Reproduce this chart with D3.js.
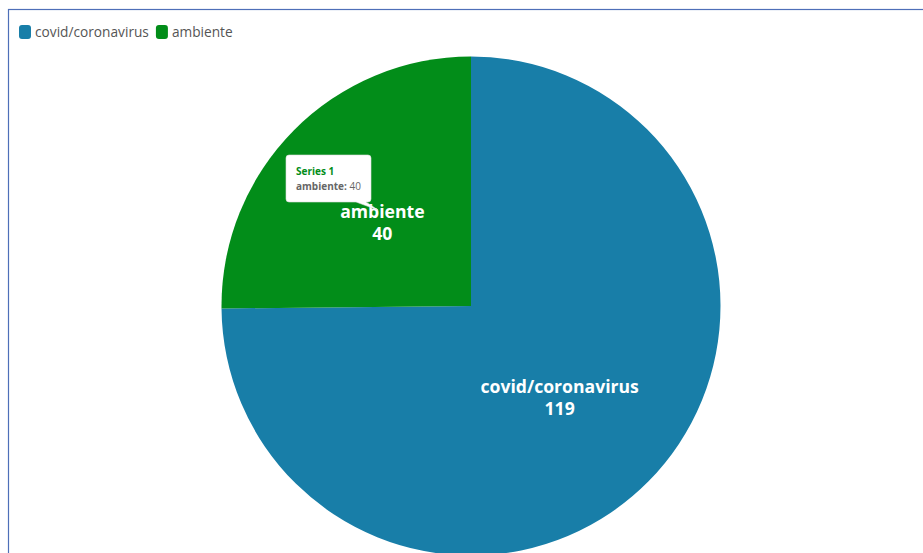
<!DOCTYPE html>
<html>
<head>
<meta charset="utf-8">
<script src="https://cdn.jsdelivr.net/npm/d3@7"></script>
<style>
  html, body { margin: 0; padding: 0; background: #fff; }
  svg { display: block; }
</style>
</head>
<body>
<svg id="chart" width="923" height="553"></svg>
<script>
// Topics and their counts
const categories = ["covid/coronavirus", "ambiente"];
const values = [119, 40];
const colors = ["#187ea8", "#028d19"];
const seriesName = "Series 1";

const svg = d3.select("#chart");
const W = 923, H = 553;

// Frame around the chart area
svg.append("rect")
  .attr("x", 8.5).attr("y", 9.5)
  .attr("width", W + 20).attr("height", H + 20)
  .attr("fill", "#fff")
  .attr("stroke", "#4e6fb8")
  .attr("stroke-width", 1.2);

const font = "'Open Sans', 'Noto Sans', sans-serif";

// Legend
const legend = svg.append("g").attr("transform", "translate(19,25)");
let lx = 0;
categories.forEach((c, i) => {
  const g = legend.append("g").attr("transform", `translate(${lx},0)`);
  g.append("rect").attr("x", 0).attr("y", 0).attr("width", 12).attr("height", 14)
    .attr("rx", 3).attr("fill", colors[i]);
  const t = g.append("text").attr("x", 16).attr("y", 12)
    .attr("font-family", font).attr("font-size", 13.7).attr("fill", "#555")
    .text(c);
  lx += 16 + t.node().getComputedTextLength() + 7;
});

// Pie
const cx = 471, cy = 306, r = 249.5;
const color = d3.scaleOrdinal().domain(categories).range(colors);
const data = categories.map((c, i) => ({ name: c, value: values[i] }));
const pie = d3.pie().value(d => d.value).sort(null);
const arc = d3.arc().innerRadius(0).outerRadius(r);
const labelArc = d3.arc().innerRadius(0).outerRadius(r);

const g = svg.append("g").attr("transform", `translate(${cx},${cy})`);
const arcs = pie(data);

g.selectAll("path").data(arcs).enter().append("path")
  .attr("d", arc)
  .attr("fill", d => color(d.data.name));

const labels = g.selectAll("text.lbl").data(arcs).enter().append("text")
  .attr("class", "lbl")
  .attr("transform", d => { const [x, y] = labelArc.centroid(d); return `translate(${x},${y + 4})`; })
  .attr("text-anchor", "middle")
  .attr("font-family", font).attr("font-weight", "bold").attr("font-size", 17.6)
  .attr("fill", "#fff");
labels.append("tspan").attr("x", 0).attr("dy", "-0.25em").text(d => d.data.name);
labels.append("tspan").attr("x", 0).attr("dy", "1.25em").text(d => d.data.value);

// Tooltip for the hovered slice (ambiente)
const tipIdx = 1;
const tip = svg.append("g").attr("transform", "translate(286,155)");
tip.append("path")
  .attr("d", "M3,0 H82 Q85,0 85,3 V44 Q85,47 82,47 H80 L92,55 L70,47 H3 Q0,47 0,44 V3 Q0,0 3,0 Z")
  .attr("fill", "#fff")
  .attr("stroke", "#ddd")
  .attr("stroke-width", 0.6);
tip.append("text").attr("x", 10).attr("y", 20)
  .attr("font-family", font).attr("font-size", 10).attr("font-weight", "bold")
  .attr("fill", colors[tipIdx]).text(seriesName);
const tt = tip.append("text").attr("x", 10).attr("y", 35)
  .attr("font-family", font).attr("font-size", 10).attr("fill", "#666");
tt.append("tspan").attr("font-weight", "bold").text(categories[tipIdx] + ":");
tt.append("tspan").text(" " + values[tipIdx]);
</script>
</body>
</html>
